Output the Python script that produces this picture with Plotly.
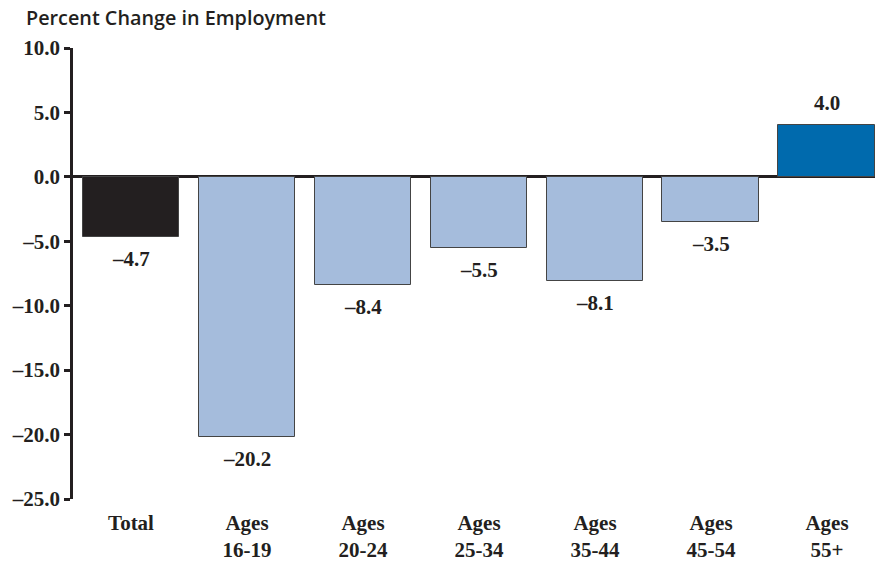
import plotly.graph_objects as go

DARK = "#231f20"
LIGHT = "#a5bcdc"
BLUE = "#006aad"

categories = ["Total", "Ages<br>16-19", "Ages<br>20-24", "Ages<br>25-34",
              "Ages<br>35-44", "Ages<br>45-54", "Ages<br>55+"]
values = [-4.7, -20.2, -8.4, -5.5, -8.1, -3.5, 4.0]
bar_colors = [DARK, LIGHT, LIGHT, LIGHT, LIGHT, LIGHT, BLUE]
tick_vals = [10, 5, 0, -5, -10, -15, -20, -25]

SERIF = dict(family="Liberation Serif", size=21, color=DARK, weight="bold")


def _fmt(v):
    return f"{v:.1f}".replace("-", "\u2013")


fig = go.Figure(go.Bar(
    x=list(range(len(categories))), y=values,
    marker=dict(color=bar_colors, line=dict(color="#444444", width=1)),
    width=0.836,
    hoverinfo="x+y",
))

# value labels sit a little away from the bar ends
for i, v in enumerate(values):
    fig.add_annotation(
        x=i, y=v, text=_fmt(v), showarrow=False,
        yshift=22 if v > 0 else -22,
        font=SERIF,
    )

fig.update_layout(
    width=875, height=562,
    plot_bgcolor="white", paper_bgcolor="white",
    margin=dict(l=73, r=0, t=48, b=63, autoexpand=False),
    showlegend=False,
    bargap=0,
)
fig.add_annotation(
    text="Percent Change in Employment",
    xref="paper", yref="paper", x=(24 - 73) / 802, y=1 + 30.5 / 451,
    xanchor="left", yanchor="middle", showarrow=False,
    font=dict(family="Open Sans", size=19.8, color=DARK, weight=600),
)

fig.update_xaxes(
    tickvals=list(range(len(categories))), ticktext=categories,
    range=[-0.5, 6.414], showgrid=False, showline=False, ticks="",
    tickfont=SERIF, automargin=False, ticklabelstandoff=9,
)
fig.update_yaxes(
    range=[-25, 10], tickvals=tick_vals,
    ticktext=[_fmt(v) for v in tick_vals],
    showgrid=False, showline=True, linecolor=DARK, linewidth=2.5,
    ticks="outside", ticklen=6, tickwidth=2.5, tickcolor=DARK,
    zeroline=True, zerolinecolor=DARK, zerolinewidth=3,
    tickfont=SERIF, automargin=False,
)

# drop the default 8px body margin so the figure sits at the page corner
fig.write_html("out.html", config={"displayModeBar": False},
               post_script="document.body.style.margin='0';")
